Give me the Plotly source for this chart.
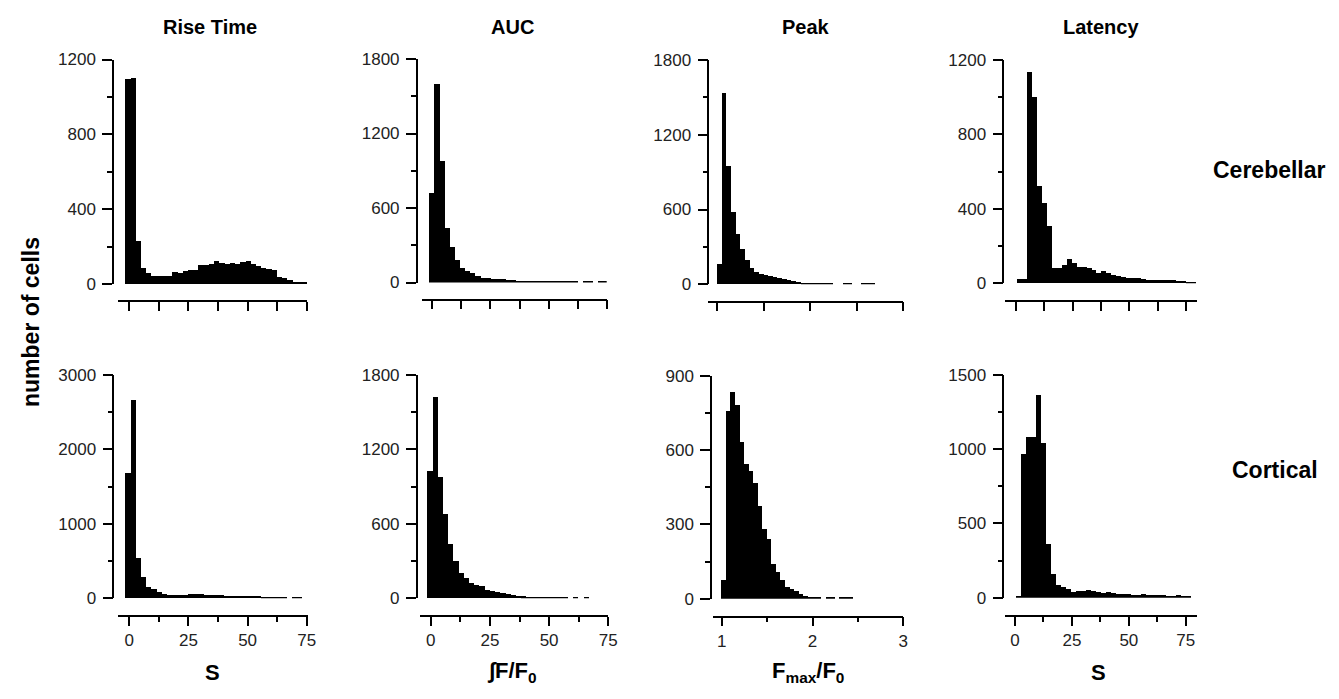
import numpy as np
import plotly.graph_objects as go

W, H = 1339, 699

# ---------------- data (counts per bin) ----------------
col_titles = ["Rise Time", "AUC", "Peak", "Latency"]
row_titles = ["Cerebellar", "Cortical"]
x_titles = ["S", "\u222bF/F<sub>0</sub>", "F<sub>max</sub>/F<sub>0</sub>", "S"]
y_title = "number of cells"

rise_start, rise_width = -1.5, 2.2
rise_cereb = [1100, 1105, 232, 89, 60, 45, 45, 48, 48, 68, 62, 70, 76, 80, 104, 105,
              108, 125, 115, 111, 114, 108, 121, 125, 110, 100, 88, 85, 78, 38, 36,
              25, 15, 11, 11]
rise_cort = [1679, 2664, 542, 282, 157, 121, 90, 54, 40, 40, 45, 50, 54, 56, 54, 50,
             45, 45, 40, 36, 36, 31, 31, 27, 27, 27, 22, 20, 20, 20, 20, None, 20, 20]

auc_start, auc_width = -1.4, 2.2
auc_cereb = [723, 1596, 981, 435, 287, 180, 113, 91, 80, 55, 38, 35, 32, 27, 25, 22,
             18, 14, 12, 12, 12, 12, 12, 12, 12, 12, 12, 12, 12, None, 12, 12, None,
             12, 12]
auc_cort = [1026, 1626, 981, 680, 435, 298, 202, 161, 121, 105, 100, 67, 62, 50, 42,
            34, 28, 22, 16, 14, 12, 12, 12, 12, 12, 12, 12, None, 12, None, 12]

peak_start, peak_width = 1.0, 0.05
peak_cereb = [163, 1538, 950, 583, 404, 286, 195, 128, 96, 80, 75, 70, 60, 50, 40, 32,
              24, 17, 12, 12, 12, 12, 12, 12, 12, None, None, 12, 12, None, None, 12,
              12, 12]
peak_cort = [75, 759, 835, 784, 633, 546, 516, 468, 374, 282, 243, 143, 109, 75, 48,
             40, 31, 22, 13, 9, 6, 6, None, 6, 6, None, 6, 6, 6]

lat_cereb_start, lat_cort_start, lat_width = 0.3, 0.4, 2.2
lat_cereb = [23, 23, 1137, 1003, 525, 430, 308, 81, 82, 100, 131, 107, 90, 86, 82, 72,
             55, 68, 55, 45, 38, 33, 30, 29, 27, 21, 19, 18, 18, 20, 18, 16, 14, 11, 9, 9]
lat_cort = [7, 965, 1080, 1080, 1366, 1045, 362, 159, 85, 74, 56, 38, 45, 42, 50, 48,
            40, 29, 36, 31, 25, 24, 22, 18, 18, 22, 20, 18, 18, 16, 13, 13, 16, 14, 11]


def centers(start, width, vals):
    return start + width * (np.arange(len(vals)) + 0.5)


series = [
    (rise_start, rise_width, rise_cereb), (auc_start, auc_width, auc_cereb),
    (peak_start, peak_width, peak_cereb), (lat_cereb_start, lat_width, lat_cereb),
    (rise_start, rise_width, rise_cort), (auc_start, auc_width, auc_cort),
    (peak_start, peak_width, peak_cort), (lat_cort_start, lat_width, lat_cort),
]

# ---------------- layout geometry (pixels) ----------------
geo = [
    dict(xd=(118, 307), xr=(-4.6, 75), yd=(59.5, 284), yr=(0, 1200), ydt=400, ya=113, xa=301, xdt=25),
    dict(xd=(421.7, 606.7), xr=(-4.56, 75), yd=(59, 282.5), yr=(0, 1800), ydt=600, ya=416.7, xa=299.5, xdt=25),
    dict(xd=(708.3, 903.3), xr=(0.903, 3), yd=(60, 284.3), yr=(0, 1800), ydt=600, ya=708.3, xa=301.7, xdt=1),
    dict(xd=(1005, 1196.7), xr=(-4.85, 79.7), yd=(60, 283.3), yr=(0, 1200), ydt=400, ya=1003.3, xa=301, xdt=25),
    dict(xd=(118.3, 307.7), xr=(-4.65, 75.4), yd=(375, 598.3), yr=(0, 3000), ydt=1000, ya=113.3, xa=616, xdt=25),
    dict(xd=(420, 608.3), xr=(-4.52, 75), yd=(375, 598.3), yr=(0, 1800), ydt=600, ya=416.7, xa=616, xdt=25),
    dict(xd=(713.3, 903.3), xr=(0.9075, 3), yd=(375.7, 598.7), yr=(0, 900), ydt=300, ya=711, xa=616.7, xdt=1),
    dict(xd=(1005, 1196.7), xr=(-4.39, 79.8), yd=(375, 597.7), yr=(0, 1500), ydt=500, ya=1003.3, xa=616, xdt=25),
]

FONT = "Liberation Sans, Arial, Helvetica, sans-serif"
tickfont = dict(family=FONT, size=17, color="#222")

fig = go.Figure()
layout = dict(
    width=W, height=H, margin=dict(l=0, r=0, t=0, b=0, pad=0, autoexpand=False),
    paper_bgcolor="white", plot_bgcolor="white", showlegend=False,
    bargap=0, hovermode=False,
)

for k, ((st, wd, vals), g) in enumerate(zip(series, geo), start=1):
    sfx = "" if k == 1 else str(k)
    fig.add_trace(go.Bar(
        x=centers(st, wd, vals), y=vals, width=wd,
        marker=dict(color="black", line=dict(width=0)),
        xaxis="x" + sfx, yaxis="y" + sfx,
    ))
    bottom_row = k > 4
    layout["xaxis" + sfx] = dict(
        domain=[g["xd"][0] / W, g["xd"][1] / W], range=list(g["xr"]),
        anchor="free", position=1 - g["xa"] / H, automargin=False,
        showline=True, linecolor="black", linewidth=1.5,
        ticks="outside", ticklen=9, tickwidth=1.5, tickcolor="black",
        tick0=0, dtick=g["xdt"], showgrid=False, zeroline=False,
        showticklabels=bottom_row, tickfont=tickfont,
        minor=dict(dtick=g["xdt"] / 2, ticks="outside", ticklen=5 if bottom_row else 9,
                   tickwidth=1.5, tickcolor="black", showgrid=False),
    )
    layout["yaxis" + sfx] = dict(
        domain=[1 - g["yd"][1] / H, 1 - g["yd"][0] / H], range=list(g["yr"]),
        anchor="free", position=g["ya"] / W, automargin=False,
        showline=True, linecolor="black", linewidth=1.5,
        ticks="outside", ticklen=10, tickwidth=1.5, tickcolor="black",
        tick0=0, dtick=g["ydt"], showgrid=False, zeroline=False,
        tickfont=tickfont, ticklabelstandoff=3,
        minor=dict(dtick=g["ydt"] / 2, ticks="outside", ticklen=5,
                   tickwidth=1.5, tickcolor="black", showgrid=False),
    )

fig.update_layout(**layout)

ann = []
title_x = [210, 512, 806, 1101]
for t, xp in zip(col_titles, title_x):
    ann.append(dict(text="<b>%s</b>" % t, x=xp / W, y=1 - 27 / H, xref="paper", yref="paper",
                    showarrow=False, font=dict(family=FONT, size=20, color="black"),
                    xanchor="center", yanchor="middle"))
for t, xp, yp in zip(row_titles, [1269, 1275], [170, 470]):
    ann.append(dict(text="<b>%s</b>" % t, x=xp / W, y=1 - yp / H, xref="paper", yref="paper",
                    showarrow=False, font=dict(family=FONT, size=23, color="black"),
                    xanchor="center", yanchor="middle"))
for t, xp in zip(x_titles, [213, 512, 808, 1098]):
    ann.append(dict(text="<b>%s</b>" % t, x=xp / W, y=1 - 672 / H, xref="paper", yref="paper",
                    showarrow=False, font=dict(family=FONT, size=22, color="black"),
                    xanchor="center", yanchor="middle"))
ann.append(dict(text="<b>%s</b>" % y_title, x=31 / W, y=1 - 322 / H, xref="paper", yref="paper",
                showarrow=False, textangle=-90, font=dict(family=FONT, size=23, color="black"),
                xanchor="center", yanchor="middle"))
fig.update_layout(annotations=ann)

fig.write_html("out.html", config={"displayModeBar": False},
               post_script="document.body.style.margin='0';document.body.style.padding='0';")
